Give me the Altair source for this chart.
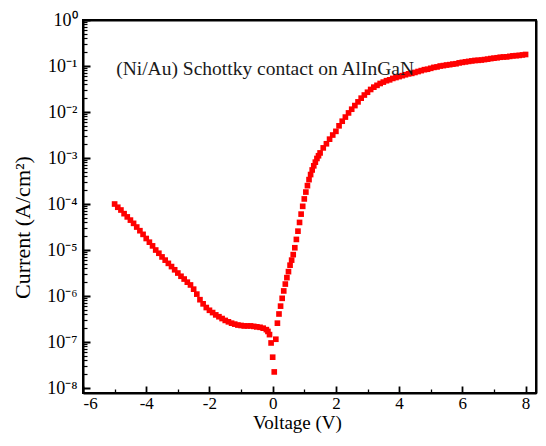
import altair as alt
import pandas as pd

# ---- data (Voltage in V, current density in A/cm^2) ----
voltage = [
    -5.0, -4.9, -4.8, -4.7, -4.6, -4.5, -4.4, -4.3, -4.2, -4.1,
    -4.0, -3.9, -3.8, -3.7, -3.6, -3.5, -3.4, -3.3, -3.2, -3.1,
    -3.0, -2.9, -2.8, -2.7, -2.6, -2.5, -2.4, -2.3, -2.2, -2.1,
    -2.0, -1.9, -1.8, -1.7, -1.6, -1.5, -1.4, -1.3, -1.2, -1.1,
    -1.0, -0.9, -0.8, -0.7, -0.6, -0.5, -0.4, -0.3, -0.2, -0.15,
    -0.1, -0.05, 0.0, 0.05, 0.1, 0.15, 0.2, 0.25, 0.3, 0.35,
    0.4, 0.45, 0.5, 0.55, 0.6, 0.65, 0.7, 0.75, 0.8, 0.85,
    0.9, 0.95, 1.0, 1.05, 1.1, 1.15, 1.2, 1.25, 1.3, 1.35,
    1.4, 1.45, 1.5, 1.6, 1.7, 1.8, 1.9, 2.0, 2.1, 2.2,
    2.3, 2.4, 2.5, 2.6, 2.7, 2.8, 2.9, 3.0, 3.1, 3.2,
    3.3, 3.4, 3.5, 3.6, 3.7, 3.8, 3.9, 4.0, 4.1, 4.2,
    4.3, 4.4, 4.5, 4.6, 4.7, 4.8, 4.9, 5.0, 5.1, 5.2,
    5.3, 5.4, 5.5, 5.6, 5.7, 5.8, 5.9, 6.0, 6.1, 6.2,
    6.3, 6.4, 6.5, 6.6, 6.7, 6.8, 6.9, 7.0, 7.1, 7.2,
    7.3, 7.4, 7.5, 7.6, 7.7, 7.8, 7.9, 8.0,
]
current = [
    1.00e-4, 8.51e-5, 7.41e-5, 6.17e-5, 5.25e-5, 4.47e-5, 3.80e-5, 3.16e-5, 2.63e-5, 2.19e-5,
    1.78e-5, 1.48e-5, 1.23e-5, 1.00e-5, 8.51e-6, 7.08e-6, 6.03e-6, 5.13e-6, 4.37e-6, 3.72e-6,
    3.16e-6, 2.69e-6, 2.34e-6, 2.00e-6, 1.74e-6, 1.41e-6, 1.10e-6, 8.32e-7, 6.76e-7, 5.62e-7,
    4.90e-7, 4.37e-7, 3.89e-7, 3.55e-7, 3.24e-7, 2.95e-7, 2.75e-7, 2.57e-7, 2.45e-7, 2.34e-7,
    2.29e-7, 2.24e-7, 2.24e-7, 2.24e-7, 2.19e-7, 2.14e-7, 2.09e-7, 2.00e-7, 1.86e-7, 1.70e-7,
    1.45e-7, 9.55e-8, 4.68e-8, 2.24e-8, 1.15e-7, 2.57e-7, 4.07e-7, 6.03e-7, 8.91e-7, 1.29e-6,
    1.82e-6, 2.51e-6, 3.39e-6, 4.68e-6, 6.03e-6, 7.94e-6, 1.12e-5, 1.70e-5, 2.57e-5, 3.98e-5,
    6.03e-5, 8.91e-5, 1.29e-4, 1.82e-4, 2.51e-4, 3.39e-4, 4.37e-4, 5.50e-4, 6.76e-4, 8.13e-4,
    9.77e-4, 1.12e-3, 1.29e-3, 1.66e-3, 2.04e-3, 2.57e-3, 3.16e-3, 3.80e-3, 5.01e-3, 6.31e-3,
    7.76e-3, 9.55e-3, 1.15e-2, 1.38e-2, 1.66e-2, 2.00e-2, 2.34e-2, 2.69e-2, 3.09e-2, 3.47e-2,
    3.80e-2, 4.17e-2, 4.47e-2, 4.79e-2, 5.01e-2, 5.37e-2, 5.62e-2, 5.89e-2, 6.17e-2, 6.46e-2,
    6.76e-2, 6.92e-2, 7.24e-2, 7.59e-2, 7.94e-2, 8.32e-2, 8.51e-2, 8.91e-2, 9.33e-2, 9.55e-2,
    0.100, 0.102, 0.105, 0.107, 0.110, 0.112, 0.117, 0.120, 0.123, 0.126,
    0.129, 0.132, 0.133, 0.135, 0.138, 0.141, 0.145, 0.148, 0.151, 0.155,
    0.157, 0.158, 0.162, 0.166, 0.168, 0.170, 0.174, 0.178,
]

# axis tick values / labels
x_major = [-6, -4, -2, 0, 2, 4, 6, 8]
x_all = [-6, -5, -4, -3, -2, -1, 0, 1, 2, 3, 4, 5, 6, 7, 8]
y_major = [1e-8, 1e-7, 1e-6, 1e-5, 1e-4, 1e-3, 1e-2, 1e-1, 1.0]
y_major_labels = ["10⁻⁸", "10⁻⁷", "10⁻⁶", "10⁻⁵", "10⁻⁴", "10⁻³", "10⁻²", "10⁻¹", "10⁰"]
y_all = [m * d for d in y_major[:-1] for m in range(1, 10)] + [1.0]

# annotation
note_text = ["(Ni/Au) Schottky contact on AlInGaN"]
note_v = [-4.95]
note_i = [0.086]

df = pd.DataFrame({"V": voltage, "I": current})
note_df = pd.DataFrame({"V": note_v, "I": note_i, "t": note_text})

W, H = 453, 373
FONT = "Liberation Serif"
FRAME = dict(domain=True, domainColor="black", domainWidth=2)

xs = alt.Scale(domain=[-6, 8.33], nice=False, zero=False)
ys = alt.Scale(type="log", domain=[7.8e-9, 1.0], nice=False)

label_arr = "[" + ",".join("'" + s + "'" for s in y_major_labels) + "]"
y_label_expr = label_arr + "[round(log(datum.value)/LN10) + 8]"

# layer with labels, titles, left/bottom frame lines
points = alt.Chart(df).mark_square(color="#ff0000", size=32, opacity=1).encode(
    x=alt.X("V:Q", scale=xs, axis=alt.Axis(
        orient="bottom", values=x_major, labelExpr="'' + datum.value",
        ticks=False, grid=False, labelPadding=2,
        labelFont=FONT, labelFontSize=17, labelColor="black",
        title="Voltage (V)", titleFont=FONT, titleFontSize=19,
        titleFontWeight="normal", titleColor="black", titlePadding=2,
        titleX=214, **FRAME)),
    y=alt.Y("I:Q", scale=ys, axis=alt.Axis(
        orient="left", values=y_major, labelExpr=y_label_expr,
        ticks=False, grid=False, labelPadding=6,
        labelFont=FONT, labelFontSize=18, labelColor="black",
        title="Current (A/cm²)", titleFont=FONT, titleFontSize=22,
        titleFontWeight="normal", titleColor="black", titlePadding=12,
        titleY=207, **FRAME)),
)

# invisible layer carrying the inward tick marks
x_major_test = "datum.value % 2 == 0"
y_major_test = "abs(log(datum.value)/LN10 - round(log(datum.value)/LN10)) < 0.001"
ticks = alt.Chart(df).mark_point(opacity=0).encode(
    x=alt.X("V:Q", scale=xs, axis=alt.Axis(
        orient="top", offset=-H, values=x_all, labels=False, domain=False,
        grid=False, title=None, tickColor="black",
        tickSize={"condition": {"test": x_major_test, "value": 7}, "value": 4},
        tickWidth={"condition": {"test": x_major_test, "value": 1.8}, "value": 1.3})),
    y=alt.Y("I:Q", scale=ys, axis=alt.Axis(
        orient="right", offset=-W, values=y_all, labels=False, domain=False,
        grid=False, title=None, tickColor="black",
        tickSize={"condition": {"test": y_major_test, "value": 7}, "value": 4},
        tickWidth={"condition": {"test": y_major_test, "value": 2}, "value": 1.2})),
)

# invisible layer carrying the top/right frame lines
frame = alt.Chart(df).mark_point(opacity=0).encode(
    x=alt.X("V:Q", scale=xs, axis=alt.Axis(
        orient="top", labels=False, ticks=False, grid=False, title=None, **FRAME)),
    y=alt.Y("I:Q", scale=ys, axis=alt.Axis(
        orient="right", labels=False, ticks=False, grid=False, title=None, **FRAME)),
)

note = alt.Chart(note_df).mark_text(
    align="left", baseline="middle", font=FONT, fontSize=19.5, color="#1a1a1a"
).encode(
    x=alt.X("V:Q", scale=xs, axis=None),
    y=alt.Y("I:Q", scale=ys, axis=None),
    text="t:N",
)

chart = alt.layer(points, ticks, frame, note).properties(
    width=W, height=H,
    padding={"left": 75, "top": 12, "right": 2, "bottom": 40},
    autosize="none",
    background="white",
).configure_view(
    stroke="black", strokeWidth=2
)

chart.save("out.html", embed_options={"renderer": "svg", "actions": False})
